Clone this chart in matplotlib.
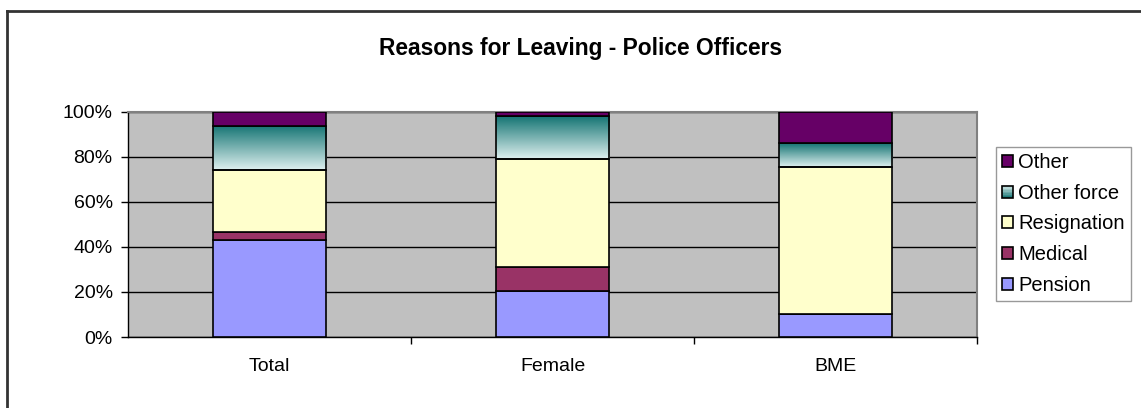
import matplotlib
matplotlib.use("Agg")
import matplotlib.pyplot as plt
import numpy as np
from matplotlib.patches import Rectangle
from matplotlib.lines import Line2D
from matplotlib.legend_handler import HandlerPatch
from matplotlib.colors import LinearSegmentedColormap

# Share of leavers by reason (percent)
groups = ["Total", "Female", "BME"]
pension = [43.1, 20.4, 10.4]
medical = [3.7, 10.6, 0.0]
resignation = [27.2, 48.3, 65.3]
other_force = [19.8, 18.9, 10.3]
other = [6.2, 1.8, 14.0]

plt.rcParams["font.family"] = ["Liberation Sans", "DejaVu Sans"]
plt.rcParams["font.size"] = 14

teal = LinearSegmentedColormap.from_list("teal", ["#dff0ef", "#147473"])

W, H = 1141, 408
fig = plt.figure(figsize=(W / 100, H / 100), dpi=100)
ax = fig.add_axes([128 / W, 1 - 337 / H, (977 - 128) / W, (337 - 112) / H])
ax.set_facecolor("#c0c0c0")

x = np.arange(len(groups))
width = 0.4
edge = dict(edgecolor="black", linewidth=1.2)

bottom = np.zeros(len(groups))
ax.bar(x, pension, width, bottom=bottom, color="#9999ff", label="Pension", zorder=3, **edge)
bottom += pension
ax.bar(x, medical, width, bottom=bottom, color="#993366", label="Medical", zorder=3, **edge)
bottom += medical
ax.bar(x, resignation, width, bottom=bottom, color="#ffffcc", label="Resignation", zorder=3, **edge)
bottom += resignation
of_bars = ax.bar(x, other_force, width, bottom=bottom, color="none", label="Other force", zorder=3, **edge)
bottom += other_force
ax.bar(x, other, width, bottom=bottom, color="#660066", label="Other", zorder=3, **edge)

# vertical gradient fill for the "Other force" segments
grad = np.linspace(0, 1, 256).reshape(-1, 1)
for bar in of_bars:
    x0, y0 = bar.get_x(), bar.get_y()
    img = ax.imshow(grad, cmap=teal, origin="lower", aspect="auto",
                    extent=[x0, x0 + bar.get_width(), y0, y0 + bar.get_height()],
                    zorder=2.5)
    img.set_clip_path(bar)

ax.set_xlim(-0.5, 2.5)
ax.set_ylim(0, 100)
ax.set_yticks(np.arange(0, 101, 20))
ax.set_yticklabels([f"{v}%" for v in range(0, 101, 20)])
ax.set_xticks(x)
ax.set_xticklabels(groups)
ax.set_xticks([0.5, 1.5, 2.5], minor=True)
ax.tick_params(axis="x", which="major", length=0, pad=15)
ax.tick_params(axis="x", which="minor", length=5, width=1, direction="out")
ax.tick_params(axis="y", length=5, width=1, direction="out", pad=6)
ax.grid(axis="y", color="black", linewidth=1, zorder=1)
ax.set_axisbelow(True)
for s in ["top", "right"]:
    ax.spines[s].set_color("#808080")
    ax.spines[s].set_linewidth(1.5)
for s in ["left", "bottom"]:
    ax.spines[s].set_color("black")
    ax.spines[s].set_linewidth(1)


class GradientHandler(HandlerPatch):
    def create_artists(self, legend, orig_handle, xdescent, ydescent,
                       width, height, fontsize, trans):
        arts = []
        n = 8
        for i in range(n):
            r = Rectangle((-xdescent, -ydescent + i * height / n), width, height / n,
                          facecolor=teal(1 - (i + 0.5) / n), edgecolor="none",
                          transform=trans)
            arts.append(r)
        arts.append(Rectangle((-xdescent, -ydescent), width, height,
                              facecolor="none", edgecolor="black", linewidth=1.2,
                              transform=trans))
        return arts


handles, labels = ax.get_legend_handles_labels()
leg = fig.legend(handles[::-1], labels[::-1], loc="upper left",
                 bbox_to_anchor=(996 / W, 1 - 147 / H), borderaxespad=0,
                 fancybox=False, frameon=True, edgecolor="#808080",
                 handlelength=0.55, handleheight=0.55, handletextpad=0.25,
                 labelspacing=0.58, borderpad=0.3, fontsize=14.5,
                 handler_map={of_bars: GradientHandler()})
leg.get_frame().set_linewidth(1)

fig.text(581 / W, 1 - 48 / H, "Reasons for Leaving - Police Officers",
         ha="center", va="center", fontsize=16.4, fontweight="bold")

# chart border (top and left edges)
bx, by = 7 / W, 1 - 11 / H
fig.add_artist(Line2D([bx, 1], [by, by], transform=fig.transFigure, color="#333333", linewidth=2))
fig.add_artist(Line2D([bx, bx], [0, by], transform=fig.transFigure, color="#333333", linewidth=2))

fig.savefig("out.png", dpi=100)
